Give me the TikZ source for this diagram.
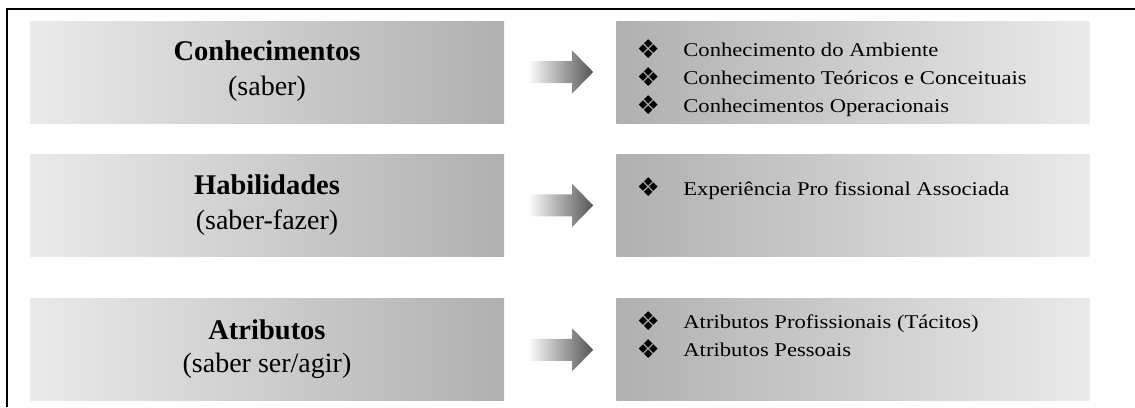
\documentclass[tikz,border=0pt]{standalone}
\usepackage{fontspec}
\setmainfont{Liberation Serif}
\newfontfamily\listfont{Liberation Serif}[FakeStretch=1.16]
\newfontfamily\dingfont{DejaVu Sans}
\usetikzlibrary{positioning}
\usetikzlibrary{calc}
\definecolor{boxlight}{RGB}{234,234,234}
\definecolor{boxdark}{RGB}{176,176,176}
\definecolor{arrowmid}{RGB}{130,130,130}
\definecolor{arrowdark}{RGB}{85,85,85}
\tikzset{
  leftbox/.style={rectangle, minimum width=474pt, minimum height=102pt, inner sep=0pt, left color=boxlight, right color=boxdark},
  rightbox/.style={rectangle, minimum width=473pt, minimum height=102pt, inner sep=0pt, left color=boxdark, right color=boxlight},
  headtext/.style={anchor=base, inner sep=0pt, font=\fontsize{28.5}{34}\selectfont\bfseries},
  subtext/.style={anchor=base, inner sep=0pt, font=\fontsize{28}{34}\selectfont},
  itemtext/.style={anchor=base west, inner sep=0pt, font=\listfont\fontsize{19.5}{28}\selectfont},
  bulletmark/.style={anchor=center, inner sep=0pt, font=\dingfont\fontsize{26}{30}\selectfont},
  arrowfill/.style={left color=white, middle color=arrowmid, right color=arrowdark}
}
% block arrow from box #1 to box #2
\newcommand{\blockarrow}[2]{%
  \path[arrowfill] ($(#1.east)+(23,-11)$) -- ($(#2.west)+(-44,-11)$) -- ($(#2.west)+(-44,-21.5)$)
    -- ($(#2.west)+(-23,0)$) -- ($(#2.west)+(-44,21.5)$) -- ($(#2.west)+(-44,11)$)
    -- ($(#1.east)+(23,11)$) -- cycle;}

\begin{document}
\begin{tikzpicture}[x=1pt,y=-1pt]
        \useasboundingbox (0,0) rectangle (1135,407);
        % frame %
        \draw[line width=2.5pt] (7,407) -- (7,9) -- (1135,9);

        % nodes %
        \node[leftbox] (kn) at (267,72) {};
        \node[leftbox, below=31pt of kn] (hab) {};
        \node[leftbox, below=42pt of hab] (atr) {};
        \node[rightbox, right=112pt of kn] (knlist) {};
        \node[rightbox, right=112pt of hab] (hablist) {};
        \node[rightbox, right=112pt of atr] (atrlist) {};

        \node[headtext] (knhead) at ($(kn.north)+(0,40)$) {Conhecimentos};
        \node[subtext] (knsub) at ($(kn.north)+(0,75)$) {(saber)};
        \node[headtext] (habhead) at ($(hab.north)+(0,40)$) {Habilidades};
        \node[subtext] (habsub) at ($(hab.north)+(0,75)$) {(saber-fazer)};
        \node[headtext] (atrhead) at ($(atr.north)+(0,41)$) {Atributos};
        \node[subtext] (atrsub) at ($(atr.north)+(0,74)$) {(saber ser/agir)};

        % lists %
        \begin{scope}
          \clip (knlist.north west) rectangle (knlist.south east);
          \node[bulletmark] (kb1) at ($(knlist.north west)+(32,28)$) {❖};
          \node[itemtext] (ki1) at ($(knlist.north west)+(67,36)$) {Conhecimento do Ambiente};
          \node[bulletmark] (kb2) at ($(knlist.north west)+(32,56)$) {❖};
          \node[itemtext] (ki2) at ($(knlist.north west)+(67,64)$) {Conhecimento Teóricos e Conceituais};
          \node[bulletmark] (kb3) at ($(knlist.north west)+(32,84)$) {❖};
          \node[itemtext] (ki3) at ($(knlist.north west)+(67,92)$) {Conhecimentos Operacionais};
        \end{scope}
        \node[bulletmark] (hb1) at ($(hablist.north west)+(32,33)$) {❖};
        \node[itemtext] (hi1) at ($(hablist.north west)+(67,41)$) {Experiência Pro fissional Associada};
        \node[bulletmark] (ab1) at ($(atrlist.north west)+(32,22)$) {❖};
        \node[itemtext] (ai1) at ($(atrlist.north west)+(67,30)$) {Atributos Profissionais (Tácitos)};
        \node[bulletmark] (ab2) at ($(atrlist.north west)+(32,50)$) {❖};
        \node[itemtext] (ai2) at ($(atrlist.north west)+(67,58)$) {Atributos Pessoais};

        % edges %
        \blockarrow{kn}{knlist}
        \blockarrow{hab}{hablist}
        \blockarrow{atr}{atrlist}
      \end{tikzpicture}
\end{document}
